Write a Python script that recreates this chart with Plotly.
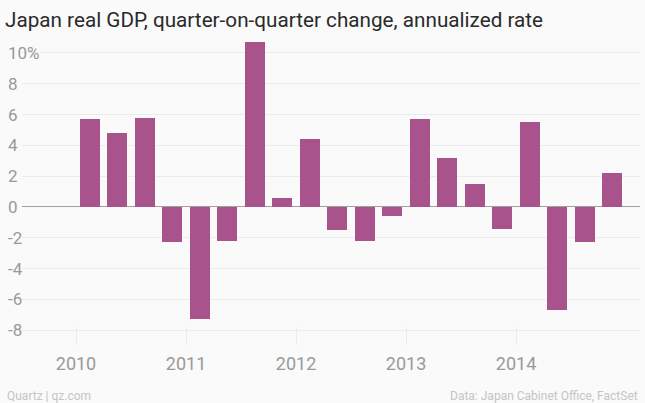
import plotly.graph_objects as go

# quarterly data, 2010 Q1 .. 2014 Q4
years = [2010] * 4 + [2011] * 4 + [2012] * 4 + [2013] * 4 + [2014] * 4
quarters = [1, 2, 3, 4] * 5
gdp_change = [5.7, 4.8, 5.8, -2.3,
              -7.3, -2.2, 10.7, 0.6,
              4.4, -1.5, -2.2, -0.6,
              5.7, 3.2, 1.5, -1.4,
              5.5, -6.7, -2.3, 2.2]

y_ticks = [-8, -6, -4, -2, 0, 2, 4, 6, 8, 10]
y_labels = ["-8", "-6", "-4", "-2", "0", "2", "4", "6", "8", "10%"]
x_ticks = [2010, 2011, 2012, 2013, 2014]

# bars sit in the middle of their quarter
x_pos = [y + (q - 0.5) / 4 for y, q in zip(years, quarters)]

BAR = "#a8538b"
BG = "#fafafa"
GRID = "#ececec"
TICK_TXT = "#999999"

fig = go.Figure()
fig.add_trace(go.Bar(x=x_pos, y=gdp_change, width=0.18, marker_color=BAR,
                     marker_line_width=0, showlegend=False))

fig.update_layout(
    width=645, height=403,
    paper_bgcolor=BG, plot_bgcolor=BG,
    margin=dict(l=22, r=5, t=38, b=58),
    font=dict(family="Roboto", color=TICK_TXT),
    title=dict(text="Japan real GDP, quarter-on-quarter change, annualized rate",
               x=5 / 645, xref="container", xanchor="left",
               y=1 - 20 / 403, yref="container", yanchor="middle",
               font=dict(family="Roboto", size=20.7, color="#2a2a2a")),
    bargap=0,
)

fig.update_yaxes(range=[-8.96, 10.97], tickvals=y_ticks, ticktext=y_labels,
                 ticklabelposition="inside", ticklabelstandoff=-17,
                 tickfont=dict(size=17, color=TICK_TXT),
                 showgrid=True, gridcolor=GRID, gridwidth=1,
                 zeroline=True, zerolinecolor="#a0a0a0", zerolinewidth=1,
                 showline=False, automargin=False)

fig.update_xaxes(range=[2009.509, 2015.127], tickvals=x_ticks,
                 ticktext=[str(t) for t in x_ticks],
                 tickfont=dict(size=18, color=TICK_TXT),
                 showgrid=False, zeroline=False, showline=False,
                 ticks="inside", ticklen=18, tickcolor=GRID, tickwidth=1,
                 ticklabelstandoff=6, automargin=False)

fig.add_annotation(text="Quartz | qz.com", xref="paper", yref="paper",
                   x=-17 / 618, y=-(396 - 345) / 307, xanchor="left", yanchor="middle",
                   showarrow=False, font=dict(size=12, color="#c4c4c4"))
fig.add_annotation(text="Data: Japan Cabinet Office, FactSet", xref="paper", yref="paper",
                   x=1, y=-(396 - 345) / 307, xanchor="right", yanchor="middle",
                   showarrow=False, font=dict(size=12, color="#c4c4c4"))

# the page body has a default 8px margin; drop it so the figure sits at 0,0
fig.write_html("out.html", config={"displayModeBar": False},
               post_script="document.body.style.margin='0';")
